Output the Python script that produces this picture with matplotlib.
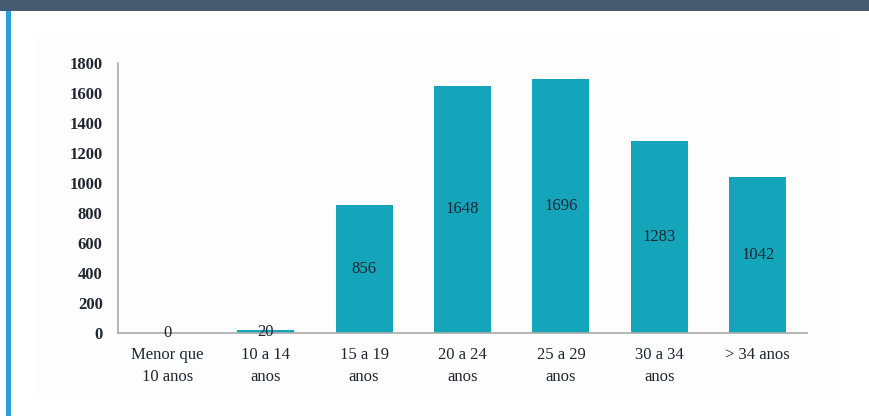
import matplotlib.pyplot as plt
import matplotlib.patches as patches

plt.rcParams['font.family'] = ['Liberation Serif', 'DejaVu Serif']

categories = ['Menor que\n10 anos', '10 a 14\nanos', '15 a 19\nanos', '20 a 24\nanos',
              '25 a 29\nanos', '30 a 34\nanos', '> 34 anos']
values = [0, 20, 856, 1648, 1696, 1283, 1042]
y_ticks = [0, 200, 400, 600, 800, 1000, 1200, 1400, 1600, 1800]

bar_color = '#14a5bb'
text_color = '#1e2630'

fig = plt.figure(figsize=(8.7, 4.16), dpi=100)

# header band and left accent line
fig.add_artist(patches.Rectangle((0, 1 - 11 / 416), 1, 11 / 416, transform=fig.transFigure,
                                 facecolor='#465a70', edgecolor='none', zorder=-2))
fig.add_artist(patches.Rectangle((6 / 870, 0), 5 / 870, 1 - 11 / 416, transform=fig.transFigure,
                                 facecolor='#2a9fdc', edgecolor='none', zorder=-2))
# faint chart area
fig.add_artist(patches.Rectangle((37 / 870, 19 / 416), 801 / 870, 362 / 416, transform=fig.transFigure,
                                 facecolor='#fdfdfd', edgecolor='none', zorder=-2))

ax = fig.add_axes([118 / 870, (416 - 333) / 416, (807 - 118) / 870, (333 - 63) / 416])
ax.set_facecolor('none')
ax.set_zorder(2)

x = range(len(categories))
bars = ax.bar(x, values, width=0.58, color=bar_color, zorder=2)

for i, v in enumerate(values):
    ax.text(i, v / 2, str(v), ha='center', va='center', fontsize=12, color=text_color, zorder=3)

ax.set_xlim(-0.5, len(categories) - 0.5)
ax.set_ylim(0, 1800)
ax.set_yticks(y_ticks)
ax.set_yticklabels([str(t) for t in y_ticks], fontsize=12, color=text_color, fontweight='bold')
ax.set_xticks(list(x))
ax.set_xticklabels(categories, fontsize=12, color=text_color, linespacing=1.55)
ax.tick_params(axis='y', length=0, pad=11)
ax.tick_params(axis='x', length=0, pad=10)

for side in ['top', 'right']:
    ax.spines[side].set_visible(False)
for side in ['left', 'bottom']:
    ax.spines[side].set_color('#aaaaaa')
    ax.spines[side].set_linewidth(1.2)

plt.savefig('out.png', dpi=100)
